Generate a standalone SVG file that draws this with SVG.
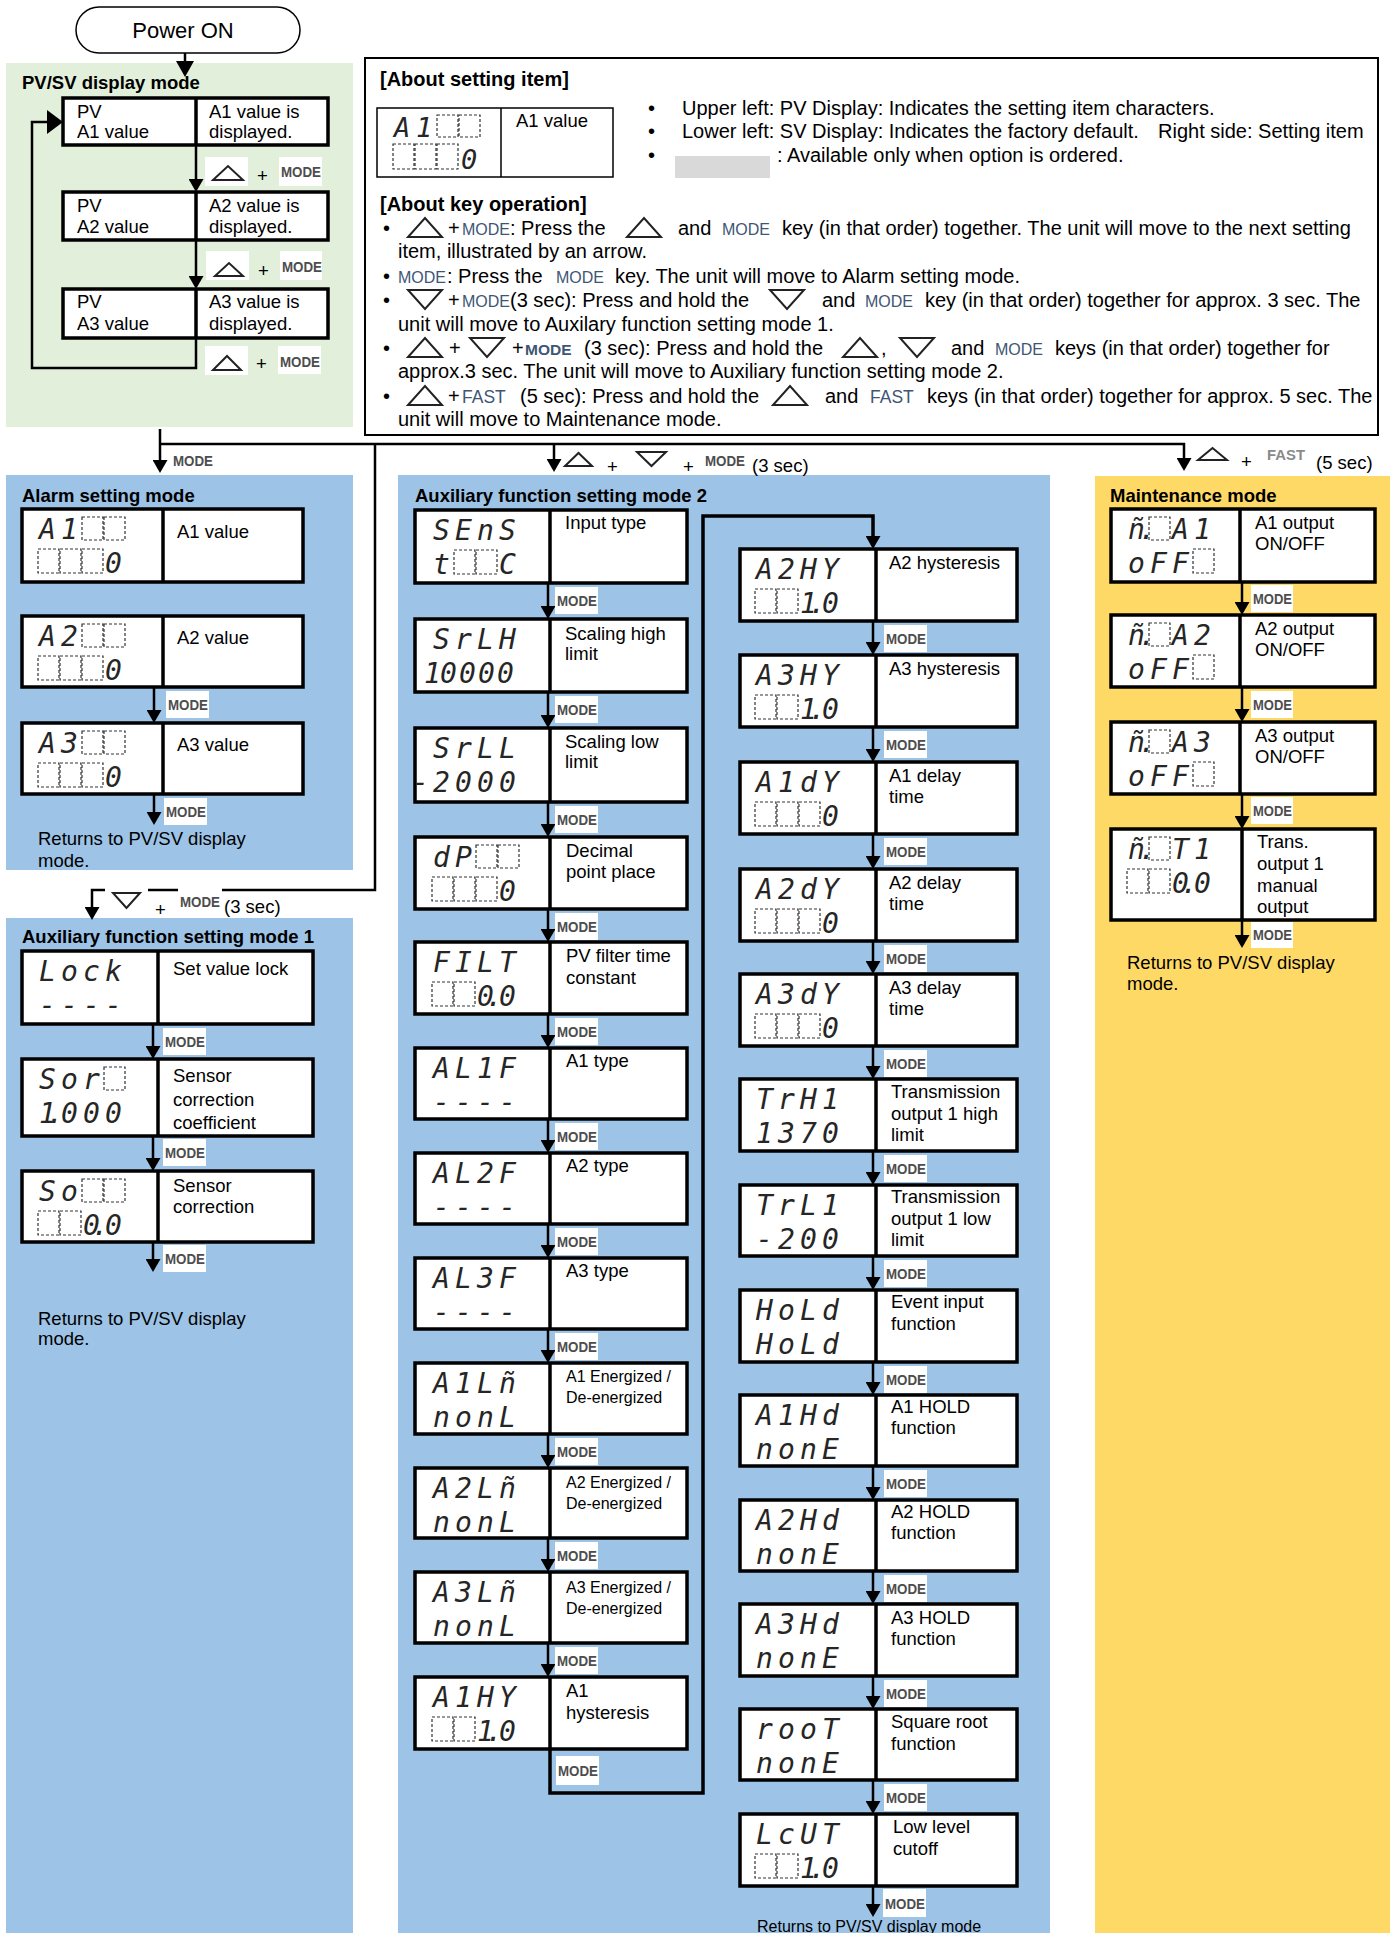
<svg xmlns="http://www.w3.org/2000/svg" width="1394" height="1933" viewBox="0 0 1394 1933">
<style>
.bx{fill:#fff;stroke:#000;stroke-width:3.5}
.dv{stroke:#000;stroke-width:3.5}
.t{font-family:"Liberation Sans",Arial,sans-serif;font-size:18.5px;fill:#000}
.t16{font-family:"Liberation Sans",Arial,sans-serif;font-size:16px;fill:#000}
.ti{font-family:"Liberation Sans",Arial,sans-serif;font-size:18.5px;font-weight:bold;fill:#000}
.s{font-family:"DejaVu Sans Mono",monospace;font-style:italic;font-size:28px;fill:#262626}
.db{fill:none;stroke:#333;stroke-width:1.2;stroke-dasharray:3 2}
.ch{fill:#fff}
.md{font-family:"Liberation Sans",Arial,sans-serif;font-size:14px;font-weight:bold;fill:#4d4d4d}
.c{fill:none;stroke:#000;stroke-width:2.5}
.it{font-family:"Liberation Sans",Arial,sans-serif;font-size:20px;fill:#000}
.ih{font-family:"Liberation Sans",Arial,sans-serif;font-size:20px;font-weight:bold;fill:#000}
.km{font-size:16px;fill:#3e5674}
.kf{font-size:17.5px;fill:#3e5674}
.tr{fill:none;stroke:#222;stroke-width:2}
.ah{fill:#000}
</style>
<defs>
<marker id="ar" markerUnits="userSpaceOnUse" markerWidth="15" markerHeight="15" refX="10" refY="7.5" orient="auto"><path d="M0,0 L13,7.5 L0,15 Z" fill="#000"/></marker>
<path id="tu" d="M0,19 L34,19 L17,0 Z"/>
<path id="td" d="M0,0 L34,0 L17,19 Z"/>
</defs>

<!-- regions -->
<rect x="6" y="63" width="347" height="364" fill="#e2efda"/>
<rect x="6" y="475" width="347" height="395" fill="#9dc3e6"/>
<rect x="6" y="918" width="347" height="1015" fill="#9dc3e6"/>
<rect x="398" y="475" width="652" height="1458" fill="#9dc3e6"/>
<rect x="1095" y="476" width="295" height="1457" fill="#ffd966"/>

<text class="ti" x="22" y="89">PV/SV display mode</text>
<text class="ti" x="22" y="502">Alarm setting mode</text>
<text class="ti" x="22" y="943">Auxiliary function setting mode 1</text>
<text class="ti" x="415" y="502">Auxiliary function setting mode 2</text>
<text class="ti" x="1110" y="502">Maintenance mode</text>

<text class="t"><tspan x="38" y="845">Returns to PV/SV display</tspan><tspan x="38" y="867">mode.</tspan></text>
<text class="t"><tspan x="38" y="1325">Returns to PV/SV display</tspan><tspan x="38" y="1345">mode.</tspan></text>
<text class="t"><tspan x="1127" y="969">Returns to PV/SV display</tspan><tspan x="1127" y="990">mode.</tspan></text>
<text class="t16" x="757" y="1932">Returns to PV/SV display mode</text>

<!-- info box -->
<g id="info">
<rect x="365" y="58" width="1013" height="377" fill="#fff" stroke="#000" stroke-width="2"/>
<text class="ih" x="380" y="86">[About setting item]</text>
<text class="it"><tspan x="648" y="115">•</tspan><tspan x="682" y="115">Upper left: PV Display: Indicates the setting item characters.</tspan></text>
<text class="it"><tspan x="648" y="138">•</tspan><tspan x="682" y="138">Lower left: SV Display: Indicates the factory default.</tspan><tspan x="1158" y="138">Right side: Setting item</tspan></text>
<rect x="675" y="156" width="95" height="22" fill="#d9d9d9"/>
<text class="it"><tspan x="648" y="162">•</tspan><tspan x="777" y="162">: Available only when option is ordered.</tspan></text>
<g id="legend-sample">
<rect x="377" y="108" width="236" height="69" fill="#fff" stroke="#000" stroke-width="1.5"/>
<line x1="501" y1="108" x2="501" y2="177" stroke="#000" stroke-width="1.5"/>
<rect class="db" x="437" y="115" width="21" height="22"/><rect class="db" x="459" y="115" width="21" height="22"/>
<rect class="db" x="393" y="144" width="21" height="25"/><rect class="db" x="415" y="144" width="21" height="25"/><rect class="db" x="437" y="144" width="21" height="25"/>
<text class="s" style="font-size:27px"><tspan x="394 416" y="137">A1</tspan><tspan x="461" y="169">0</tspan></text>
<text class="t" x="516" y="127">A1 value</text>
</g>
<text class="ih" x="380" y="211">[About key operation]</text>
<use href="#tu" class="tr" x="408" y="218"/>
<use href="#tu" class="tr" x="627" y="218"/>
<text class="it" y="235"><tspan x="383">•</tspan><tspan x="448">+</tspan><tspan x="462" class="km">MODE</tspan><tspan x="510">: Press the</tspan><tspan x="678">and</tspan><tspan x="722" class="km">MODE</tspan><tspan x="782">key (in that order) together. The unit will move to the next setting</tspan></text>
<text class="it" x="398" y="258">item, illustrated by an arrow.</text>
<text class="it" y="283"><tspan x="383">•</tspan><tspan x="398" class="km">MODE</tspan><tspan x="447">: Press the</tspan><tspan x="556" class="km">MODE</tspan><tspan x="615">key. The unit will move to Alarm setting mode.</tspan></text>
<use href="#td" class="tr" x="408" y="290"/>
<use href="#td" class="tr" x="770" y="290"/>
<text class="it" y="307"><tspan x="383">•</tspan><tspan x="448">+</tspan><tspan x="462" class="km">MODE</tspan><tspan x="510">(3 sec): Press and hold the</tspan><tspan x="822">and</tspan><tspan x="865" class="km">MODE</tspan><tspan x="925">key (in that order) together for approx. 3 sec. The</tspan></text>
<text class="it" x="398" y="331">unit will move to Auxilary function setting mode 1.</text>
<use href="#tu" class="tr" x="408" y="338"/>
<use href="#td" class="tr" x="470" y="338"/>
<use href="#tu" class="tr" x="843" y="338"/>
<use href="#td" class="tr" x="900" y="338"/>
<text class="it" y="355"><tspan x="383">•</tspan><tspan x="449">+</tspan><tspan x="512">+</tspan><tspan x="525" class="km" style="font-size:15.5px;font-weight:bold">MODE</tspan><tspan x="584">(3 sec): Press and hold the</tspan><tspan x="881">,</tspan><tspan x="951">and</tspan><tspan x="995" class="km">MODE</tspan><tspan x="1055">keys (in that order) together for</tspan></text>
<text class="it" x="398" y="378">approx.3 sec. The unit will move to Auxiliary function setting mode 2.</text>
<use href="#tu" class="tr" x="408" y="386"/>
<use href="#tu" class="tr" x="773" y="386"/>
<text class="it" y="403"><tspan x="383">•</tspan><tspan x="448">+</tspan><tspan x="462" class="kf">FAST</tspan><tspan x="520">(5 sec): Press and hold the</tspan><tspan x="825">and</tspan><tspan x="870" class="kf">FAST</tspan><tspan x="927">keys (in that order) together for approx. 5 sec. The</tspan></text>
<text class="it" x="398" y="426">unit will move to Maintenance mode.</text>
</g>

<!-- connectors -->
<g id="connectors">
<path class="c" d="M185,53 V63"/>
<polygon class="ah" points="176,61 194,61 185,77"/>
<path class="c" d="M196,145 V189" marker-end="url(#ar)"/>
<path class="c" d="M196,240 V286" marker-end="url(#ar)"/>
<path class="c" d="M196,338 V368 H32 V122 H49"/>
<polygon class="ah" points="47,110 63,122 47,134"/>
<path class="c" d="M160,429 V470" marker-end="url(#ar)"/>
<path class="c" d="M160,444 H1184 V468" marker-end="url(#ar)"/>
<path class="c" d="M554,444 V469" marker-end="url(#ar)"/>
<path class="c" d="M375,444 V890 H92 V917" marker-end="url(#ar)"/>
<path class="c" d="M154,687 V720" marker-end="url(#ar)"/>
<path class="c" d="M154,794 V822" marker-end="url(#ar)"/>
<path class="c" d="M153,1024 V1056" marker-end="url(#ar)"/>
<path class="c" d="M153,1136 V1168" marker-end="url(#ar)"/>
<path class="c" d="M153,1242 V1269" marker-end="url(#ar)"/>
<path class="c" d="M548,583 V616" marker-end="url(#ar)"/>
<path class="c" d="M548,692 V725" marker-end="url(#ar)"/>
<path class="c" d="M548,802 V834" marker-end="url(#ar)"/>
<path class="c" d="M548,909 V939" marker-end="url(#ar)"/>
<path class="c" d="M548,1014 V1045" marker-end="url(#ar)"/>
<path class="c" d="M548,1119 V1150" marker-end="url(#ar)"/>
<path class="c" d="M548,1224 V1255" marker-end="url(#ar)"/>
<path class="c" d="M548,1329 V1360" marker-end="url(#ar)"/>
<path class="c" d="M548,1434 V1465" marker-end="url(#ar)"/>
<path class="c" d="M548,1538 V1569" marker-end="url(#ar)"/>
<path class="c" d="M548,1643 V1674" marker-end="url(#ar)"/>
<path class="c" style="stroke-width:3.5" d="M550,1749 V1793 H703 V516 H873 V546" marker-end="url(#ar)"/>
<path class="c" d="M873,621 V652" marker-end="url(#ar)"/>
<path class="c" d="M873,727 V759" marker-end="url(#ar)"/>
<path class="c" d="M873,834 V866" marker-end="url(#ar)"/>
<path class="c" d="M873,941 V971" marker-end="url(#ar)"/>
<path class="c" d="M873,1046 V1076" marker-end="url(#ar)"/>
<path class="c" d="M873,1151 V1182" marker-end="url(#ar)"/>
<path class="c" d="M873,1256 V1287" marker-end="url(#ar)"/>
<path class="c" d="M873,1362 V1392" marker-end="url(#ar)"/>
<path class="c" d="M873,1466 V1497" marker-end="url(#ar)"/>
<path class="c" d="M873,1571 V1601" marker-end="url(#ar)"/>
<path class="c" d="M873,1676 V1706" marker-end="url(#ar)"/>
<path class="c" d="M873,1780 V1811" marker-end="url(#ar)"/>
<path class="c" d="M873,1886 V1914" marker-end="url(#ar)"/>
<path class="c" d="M1242,582 V612" marker-end="url(#ar)"/>
<path class="c" d="M1242,687 V719" marker-end="url(#ar)"/>
<path class="c" d="M1242,794 V826" marker-end="url(#ar)"/>
<path class="c" d="M1242,920 V945" marker-end="url(#ar)"/>

<!-- PV chips -->
<rect class="ch" x="205" y="157" width="43" height="29"/><polygon class="tr" points="213,180 243,180 228,166"/>
<text class="t" x="257" y="182">+</text>
<rect class="ch" x="279" y="157" width="43" height="29"/><text class="md" x="281" y="177" textLength="40" lengthAdjust="spacingAndGlyphs">MODE</text>
<rect class="ch" x="206" y="251" width="43" height="29"/><polygon class="tr" points="215,276 243,276 229,263"/>
<text class="t" x="258" y="277">+</text>
<rect class="ch" x="280" y="251" width="42" height="29"/><text class="md" x="282" y="272" textLength="40" lengthAdjust="spacingAndGlyphs">MODE</text>
<rect class="ch" x="205" y="346" width="43" height="29"/><polygon class="tr" points="213,370 241,370 227,356"/>
<text class="t" x="256" y="370">+</text>
<rect class="ch" x="278" y="346" width="43" height="28"/><text class="md" x="280" y="367" textLength="40" lengthAdjust="spacingAndGlyphs">MODE</text>

<!-- top labels -->
<text class="md" x="173" y="466" textLength="40" lengthAdjust="spacingAndGlyphs">MODE</text>
<polygon class="tr" points="565,466 592,466 578.5,453"/>
<text class="t" x="607" y="473">+</text>
<polygon class="tr" points="637,452 666,452 651.5,466"/>
<text class="t" x="683" y="473">+</text>
<text class="md" x="705" y="466" textLength="40" lengthAdjust="spacingAndGlyphs">MODE</text>
<text class="t" x="752" y="472">(3 sec)</text>
<polygon class="tr" points="1198,460 1227,460 1212.5,448"/>
<text class="t" x="1241" y="468">+</text>
<text class="md" x="1267" y="460" style="fill:#8a8a8a" textLength="38" lengthAdjust="spacingAndGlyphs">FAST</text>
<text class="t" x="1316" y="469">(5 sec)</text>
<rect class="ch" x="105" y="880" width="43" height="30"/>
<polygon class="tr" points="113,893 140,893 126.5,908"/>
<text class="t" x="155" y="916">+</text>
<rect class="ch" x="178" y="880" width="44" height="30"/>
<text class="md" x="180" y="907" textLength="40" lengthAdjust="spacingAndGlyphs">MODE</text>
<text class="t" x="224" y="913">(3 sec)</text>

<!-- MODE chips on flows -->
<rect class="ch" x="166" y="691" width="43" height="27"/><text class="md" x="168" y="710" textLength="40" lengthAdjust="spacingAndGlyphs">MODE</text>
<rect class="ch" x="164" y="798" width="43" height="27"/><text class="md" x="166" y="817" textLength="40" lengthAdjust="spacingAndGlyphs">MODE</text>
<rect class="ch" x="163" y="1028" width="43" height="27"/><text class="md" x="165" y="1047" textLength="40" lengthAdjust="spacingAndGlyphs">MODE</text>
<rect class="ch" x="163" y="1139" width="43" height="27"/><text class="md" x="165" y="1158" textLength="40" lengthAdjust="spacingAndGlyphs">MODE</text>
<rect class="ch" x="163" y="1245" width="43" height="27"/><text class="md" x="165" y="1264" textLength="40" lengthAdjust="spacingAndGlyphs">MODE</text>
<rect class="ch" x="555" y="587" width="43" height="27"/><text class="md" x="557" y="606" textLength="40" lengthAdjust="spacingAndGlyphs">MODE</text>
<rect class="ch" x="555" y="696" width="43" height="27"/><text class="md" x="557" y="715" textLength="40" lengthAdjust="spacingAndGlyphs">MODE</text>
<rect class="ch" x="555" y="806" width="43" height="27"/><text class="md" x="557" y="825" textLength="40" lengthAdjust="spacingAndGlyphs">MODE</text>
<rect class="ch" x="555" y="913" width="43" height="27"/><text class="md" x="557" y="932" textLength="40" lengthAdjust="spacingAndGlyphs">MODE</text>
<rect class="ch" x="555" y="1018" width="43" height="27"/><text class="md" x="557" y="1037" textLength="40" lengthAdjust="spacingAndGlyphs">MODE</text>
<rect class="ch" x="555" y="1123" width="43" height="27"/><text class="md" x="557" y="1142" textLength="40" lengthAdjust="spacingAndGlyphs">MODE</text>
<rect class="ch" x="555" y="1228" width="43" height="27"/><text class="md" x="557" y="1247" textLength="40" lengthAdjust="spacingAndGlyphs">MODE</text>
<rect class="ch" x="555" y="1333" width="43" height="27"/><text class="md" x="557" y="1352" textLength="40" lengthAdjust="spacingAndGlyphs">MODE</text>
<rect class="ch" x="555" y="1438" width="43" height="27"/><text class="md" x="557" y="1457" textLength="40" lengthAdjust="spacingAndGlyphs">MODE</text>
<rect class="ch" x="555" y="1542" width="43" height="27"/><text class="md" x="557" y="1561" textLength="40" lengthAdjust="spacingAndGlyphs">MODE</text>
<rect class="ch" x="555" y="1647" width="43" height="27"/><text class="md" x="557" y="1666" textLength="40" lengthAdjust="spacingAndGlyphs">MODE</text>
<rect class="ch" x="556" y="1756" width="43" height="29"/><text class="md" x="558" y="1776" textLength="40" lengthAdjust="spacingAndGlyphs">MODE</text>
<rect class="ch" x="884" y="625" width="43" height="27"/><text class="md" x="886" y="644" textLength="40" lengthAdjust="spacingAndGlyphs">MODE</text>
<rect class="ch" x="884" y="731" width="43" height="27"/><text class="md" x="886" y="750" textLength="40" lengthAdjust="spacingAndGlyphs">MODE</text>
<rect class="ch" x="884" y="838" width="43" height="27"/><text class="md" x="886" y="857" textLength="40" lengthAdjust="spacingAndGlyphs">MODE</text>
<rect class="ch" x="884" y="945" width="43" height="27"/><text class="md" x="886" y="964" textLength="40" lengthAdjust="spacingAndGlyphs">MODE</text>
<rect class="ch" x="884" y="1050" width="43" height="27"/><text class="md" x="886" y="1069" textLength="40" lengthAdjust="spacingAndGlyphs">MODE</text>
<rect class="ch" x="884" y="1155" width="43" height="27"/><text class="md" x="886" y="1174" textLength="40" lengthAdjust="spacingAndGlyphs">MODE</text>
<rect class="ch" x="884" y="1260" width="43" height="27"/><text class="md" x="886" y="1279" textLength="40" lengthAdjust="spacingAndGlyphs">MODE</text>
<rect class="ch" x="884" y="1366" width="43" height="27"/><text class="md" x="886" y="1385" textLength="40" lengthAdjust="spacingAndGlyphs">MODE</text>
<rect class="ch" x="884" y="1470" width="43" height="27"/><text class="md" x="886" y="1489" textLength="40" lengthAdjust="spacingAndGlyphs">MODE</text>
<rect class="ch" x="884" y="1575" width="43" height="27"/><text class="md" x="886" y="1594" textLength="40" lengthAdjust="spacingAndGlyphs">MODE</text>
<rect class="ch" x="884" y="1680" width="43" height="27"/><text class="md" x="886" y="1699" textLength="40" lengthAdjust="spacingAndGlyphs">MODE</text>
<rect class="ch" x="884" y="1784" width="43" height="27"/><text class="md" x="886" y="1803" textLength="40" lengthAdjust="spacingAndGlyphs">MODE</text>
<rect class="ch" x="883" y="1889" width="43" height="28"/><text class="md" x="885" y="1909" textLength="40" lengthAdjust="spacingAndGlyphs">MODE</text>
<rect class="ch" x="1251" y="585" width="42" height="27"/><text class="md" x="1253" y="604" textLength="39" lengthAdjust="spacingAndGlyphs">MODE</text>
<rect class="ch" x="1251" y="691" width="42" height="27"/><text class="md" x="1253" y="710" textLength="39" lengthAdjust="spacingAndGlyphs">MODE</text>
<rect class="ch" x="1251" y="797" width="42" height="27"/><text class="md" x="1253" y="816" textLength="39" lengthAdjust="spacingAndGlyphs">MODE</text>
<rect class="ch" x="1251" y="922" width="42" height="26"/><text class="md" x="1253" y="940" textLength="39" lengthAdjust="spacingAndGlyphs">MODE</text>
</g>

<!-- Power ON -->
<g id="power-on"><rect x="76" y="7" width="224" height="46" rx="23" fill="#fff" stroke="#000" stroke-width="1.5"/><text x="183" y="38" text-anchor="middle" style="font-family:'Liberation Sans',Arial,sans-serif;font-size:22px">Power ON</text></g>

<!-- PV/SV nodes -->
<g id="pv-a1"><rect class="bx" x="63" y="98" width="265" height="47"/><line class="dv" x1="196" y1="98" x2="196" y2="145"/>
<text class="t"><tspan x="77" y="118">PV</tspan><tspan x="77" y="138">A1 value</tspan></text><text class="t"><tspan x="209" y="118">A1 value is</tspan><tspan x="209" y="138">displayed.</tspan></text></g>
<g id="pv-a2"><rect class="bx" x="63" y="192" width="265" height="48"/><line class="dv" x1="196" y1="192" x2="196" y2="240"/>
<text class="t"><tspan x="77" y="212">PV</tspan><tspan x="77" y="233">A2 value</tspan></text><text class="t"><tspan x="209" y="212">A2 value is</tspan><tspan x="209" y="233">displayed.</tspan></text></g>
<g id="pv-a3"><rect class="bx" x="63" y="289" width="265" height="49"/><line class="dv" x1="196" y1="289" x2="196" y2="338"/>
<text class="t"><tspan x="77" y="308">PV</tspan><tspan x="77" y="330">A3 value</tspan></text><text class="t"><tspan x="209" y="308">A3 value is</tspan><tspan x="209" y="330">displayed.</tspan></text></g>

<!-- Alarm nodes -->
<g id="alarm-a1"><rect class="bx" x="22" y="509" width="281" height="73"/><line class="dv" x1="163" y1="509" x2="163" y2="582"/>
<rect class="db" x="82" y="517" width="21" height="23"/><rect class="db" x="104" y="517" width="21" height="23"/>
<rect class="db" x="38" y="549" width="21" height="24"/><rect class="db" x="60" y="549" width="21" height="24"/><rect class="db" x="82" y="549" width="21" height="24"/>
<text class="s"><tspan x="39 61" y="539">A1</tspan><tspan x="105" y="573">0</tspan></text>
<text class="t" x="177" y="538">A1 value</text></g>
<g id="alarm-a2"><rect class="bx" x="22" y="616" width="281" height="71"/><line class="dv" x1="163" y1="616" x2="163" y2="687"/>
<rect class="db" x="82" y="624" width="21" height="23"/><rect class="db" x="104" y="624" width="21" height="23"/>
<rect class="db" x="38" y="656" width="21" height="24"/><rect class="db" x="60" y="656" width="21" height="24"/><rect class="db" x="82" y="656" width="21" height="24"/>
<text class="s"><tspan x="39 61" y="646">A2</tspan><tspan x="105" y="680">0</tspan></text>
<text class="t" x="177" y="644">A2 value</text></g>
<g id="alarm-a3"><rect class="bx" x="22" y="723" width="281" height="71"/><line class="dv" x1="163" y1="723" x2="163" y2="794"/>
<rect class="db" x="82" y="731" width="21" height="23"/><rect class="db" x="104" y="731" width="21" height="23"/>
<rect class="db" x="38" y="763" width="21" height="24"/><rect class="db" x="60" y="763" width="21" height="24"/><rect class="db" x="82" y="763" width="21" height="24"/>
<text class="s"><tspan x="39 61" y="753">A3</tspan><tspan x="105" y="787">0</tspan></text>
<text class="t" x="177" y="751">A3 value</text></g>

<!-- Aux 1 nodes -->
<g id="aux1-lock"><rect class="bx" x="22" y="951" width="291" height="73"/><line class="dv" x1="158" y1="951" x2="158" y2="1024"/>
<text class="s"><tspan x="39 61 83 105" y="981">Lock</tspan><tspan x="39 61 83 105" y="1015">----</tspan></text>
<text class="t" x="173" y="975">Set value lock</text></g>
<g id="aux1-sor"><rect class="bx" x="22" y="1059" width="291" height="77"/><line class="dv" x1="158" y1="1059" x2="158" y2="1136"/>
<rect class="db" x="104" y="1067" width="21" height="23"/>
<text class="s"><tspan x="39 61 83" y="1089">Sor</tspan><tspan x="39 47 61 83 105" y="1123">1.000</tspan></text>
<text class="t"><tspan x="173" y="1082">Sensor</tspan><tspan x="173" y="1106">correction</tspan><tspan x="173" y="1129">coefficient</tspan></text></g>
<g id="aux1-so"><rect class="bx" x="22" y="1171" width="291" height="71"/><line class="dv" x1="158" y1="1171" x2="158" y2="1242"/>
<rect class="db" x="82" y="1179" width="21" height="23"/><rect class="db" x="104" y="1179" width="21" height="23"/>
<rect class="db" x="38" y="1211" width="21" height="24"/><rect class="db" x="60" y="1211" width="21" height="24"/>
<text class="s"><tspan x="39 61" y="1201">So</tspan><tspan x="83 92 105" y="1235">0.0</tspan></text>
<text class="t"><tspan x="173" y="1192">Sensor</tspan><tspan x="173" y="1213">correction</tspan></text></g>

<!-- Aux 2 left nodes -->
<g id="aux2-sens"><rect class="bx" x="415" y="510" width="272" height="73"/><line class="dv" x1="550" y1="510" x2="550" y2="583"/>
<rect class="db" x="454" y="550" width="21" height="24"/><rect class="db" x="476" y="550" width="21" height="24"/>
<text class="s"><tspan x="433 455 477 499" y="540">SEnS</tspan><tspan x="433 499" y="574">tC</tspan></text>
<text class="t" x="565" y="529">Input type</text></g>
<g id="aux2-srlh"><rect class="bx" x="415" y="619" width="272" height="73"/><line class="dv" x1="550" y1="619" x2="550" y2="692"/>
<text class="s"><tspan x="433 455 477 499" y="649">SrLH</tspan><tspan x="424 440 459 478 497" y="683">10000</tspan></text>
<text class="t"><tspan x="565" y="640">Scaling high</tspan><tspan x="565" y="660">limit</tspan></text></g>
<g id="aux2-srll"><rect class="bx" x="415" y="728" width="272" height="74"/><line class="dv" x1="550" y1="728" x2="550" y2="802"/>
<text class="s"><tspan x="433 455 477 499" y="758">SrLL</tspan><tspan x="412 433 455 477 499" y="792">-2000</tspan></text>
<text class="t"><tspan x="565" y="748">Scaling low</tspan><tspan x="565" y="768">limit</tspan></text></g>
<g id="aux2-dp"><rect class="bx" x="415" y="837" width="272" height="72"/><line class="dv" x1="550" y1="837" x2="550" y2="909"/>
<rect class="db" x="476" y="845" width="21" height="23"/><rect class="db" x="498" y="845" width="21" height="23"/>
<rect class="db" x="432" y="877" width="21" height="24"/><rect class="db" x="454" y="877" width="21" height="24"/><rect class="db" x="476" y="877" width="21" height="24"/>
<text class="s"><tspan x="433 455" y="867">dP</tspan><tspan x="499" y="901">0</tspan></text>
<text class="t"><tspan x="566" y="857">Decimal</tspan><tspan x="566" y="878">point place</tspan></text></g>
<g id="aux2-filt"><rect class="bx" x="415" y="942" width="272" height="72"/><line class="dv" x1="550" y1="942" x2="550" y2="1014"/>
<rect class="db" x="432" y="982" width="21" height="24"/><rect class="db" x="454" y="982" width="21" height="24"/>
<text class="s"><tspan x="433 455 477 499" y="972">FILT</tspan><tspan x="477 486 499" y="1006">0.0</tspan></text>
<text class="t"><tspan x="566" y="962">PV filter time</tspan><tspan x="566" y="984">constant</tspan></text></g>
<g id="aux2-al1f"><rect class="bx" x="415" y="1048" width="272" height="71"/><line class="dv" x1="550" y1="1048" x2="550" y2="1119"/>
<text class="s"><tspan x="433 455 477 499" y="1078">AL1F</tspan><tspan x="433 455 477 499" y="1112">----</tspan></text>
<text class="t" x="566" y="1067">A1 type</text></g>
<g id="aux2-al2f"><rect class="bx" x="415" y="1153" width="272" height="71"/><line class="dv" x1="550" y1="1153" x2="550" y2="1224"/>
<text class="s"><tspan x="433 455 477 499" y="1183">AL2F</tspan><tspan x="433 455 477 499" y="1217">----</tspan></text>
<text class="t" x="566" y="1172">A2 type</text></g>
<g id="aux2-al3f"><rect class="bx" x="415" y="1258" width="272" height="71"/><line class="dv" x1="550" y1="1258" x2="550" y2="1329"/>
<text class="s"><tspan x="433 455 477 499" y="1288">AL3F</tspan><tspan x="433 455 477 499" y="1322">----</tspan></text>
<text class="t" x="566" y="1277">A3 type</text></g>
<g id="aux2-a1lm"><rect class="bx" x="415" y="1363" width="272" height="71"/><line class="dv" x1="550" y1="1363" x2="550" y2="1434"/>
<text class="s"><tspan x="433 455 477 499" y="1393">A1Lñ</tspan><tspan x="433 455 477 499" y="1427">nonL</tspan></text>
<text class="t16"><tspan x="566" y="1382">A1 Energized /</tspan><tspan x="566" y="1403">De-energized</tspan></text></g>
<g id="aux2-a2lm"><rect class="bx" x="415" y="1468" width="272" height="70"/><line class="dv" x1="550" y1="1468" x2="550" y2="1538"/>
<text class="s"><tspan x="433 455 477 499" y="1498">A2Lñ</tspan><tspan x="433 455 477 499" y="1532">nonL</tspan></text>
<text class="t16"><tspan x="566" y="1488">A2 Energized /</tspan><tspan x="566" y="1509">De-energized</tspan></text></g>
<g id="aux2-a3lm"><rect class="bx" x="415" y="1572" width="272" height="71"/><line class="dv" x1="550" y1="1572" x2="550" y2="1643"/>
<text class="s"><tspan x="433 455 477 499" y="1602">A3Lñ</tspan><tspan x="433 455 477 499" y="1636">nonL</tspan></text>
<text class="t16"><tspan x="566" y="1593">A3 Energized /</tspan><tspan x="566" y="1614">De-energized</tspan></text></g>
<g id="aux2-a1hy"><rect class="bx" x="415" y="1677" width="272" height="72"/><line class="dv" x1="550" y1="1677" x2="550" y2="1749"/>
<rect class="db" x="432" y="1717" width="21" height="24"/><rect class="db" x="454" y="1717" width="21" height="24"/>
<text class="s"><tspan x="433 455 477 499" y="1707">A1HY</tspan><tspan x="477 486 499" y="1741">1.0</tspan></text>
<text class="t"><tspan x="566" y="1697">A1</tspan><tspan x="566" y="1719">hysteresis</tspan></text></g>

<!-- Aux 2 right nodes -->
<g id="aux2-a2hy"><rect class="bx" x="740" y="549" width="277" height="72"/><line class="dv" x1="876" y1="549" x2="876" y2="621"/>
<rect class="db" x="755" y="589" width="21" height="24"/><rect class="db" x="777" y="589" width="21" height="24"/>
<text class="s"><tspan x="756 778 800 822" y="579">A2HY</tspan><tspan x="800 809 822" y="613">1.0</tspan></text>
<text class="t" x="889" y="569">A2 hysteresis</text></g>
<g id="aux2-a3hy"><rect class="bx" x="740" y="655" width="277" height="72"/><line class="dv" x1="876" y1="655" x2="876" y2="727"/>
<rect class="db" x="755" y="695" width="21" height="24"/><rect class="db" x="777" y="695" width="21" height="24"/>
<text class="s"><tspan x="756 778 800 822" y="685">A3HY</tspan><tspan x="800 809 822" y="719">1.0</tspan></text>
<text class="t" x="889" y="675">A3 hysteresis</text></g>
<g id="aux2-a1dy"><rect class="bx" x="740" y="762" width="277" height="72"/><line class="dv" x1="876" y1="762" x2="876" y2="834"/>
<rect class="db" x="755" y="802" width="21" height="24"/><rect class="db" x="777" y="802" width="21" height="24"/><rect class="db" x="799" y="802" width="21" height="24"/>
<text class="s"><tspan x="756 778 800 822" y="792">A1dY</tspan><tspan x="822" y="826">0</tspan></text>
<text class="t"><tspan x="889" y="782">A1 delay</tspan><tspan x="889" y="803">time</tspan></text></g>
<g id="aux2-a2dy"><rect class="bx" x="740" y="869" width="277" height="72"/><line class="dv" x1="876" y1="869" x2="876" y2="941"/>
<rect class="db" x="755" y="909" width="21" height="24"/><rect class="db" x="777" y="909" width="21" height="24"/><rect class="db" x="799" y="909" width="21" height="24"/>
<text class="s"><tspan x="756 778 800 822" y="899">A2dY</tspan><tspan x="822" y="933">0</tspan></text>
<text class="t"><tspan x="889" y="889">A2 delay</tspan><tspan x="889" y="910">time</tspan></text></g>
<g id="aux2-a3dy"><rect class="bx" x="740" y="974" width="277" height="72"/><line class="dv" x1="876" y1="974" x2="876" y2="1046"/>
<rect class="db" x="755" y="1014" width="21" height="24"/><rect class="db" x="777" y="1014" width="21" height="24"/><rect class="db" x="799" y="1014" width="21" height="24"/>
<text class="s"><tspan x="756 778 800 822" y="1004">A3dY</tspan><tspan x="822" y="1038">0</tspan></text>
<text class="t"><tspan x="889" y="994">A3 delay</tspan><tspan x="889" y="1015">time</tspan></text></g>
<g id="aux2-trh1"><rect class="bx" x="740" y="1079" width="277" height="72"/><line class="dv" x1="876" y1="1079" x2="876" y2="1151"/>
<text class="s"><tspan x="756 778 800 822" y="1109">TrH1</tspan><tspan x="756 778 800 822" y="1143">1370</tspan></text>
<text class="t"><tspan x="891" y="1098">Transmission</tspan><tspan x="891" y="1120">output 1 high</tspan><tspan x="891" y="1141">limit</tspan></text></g>
<g id="aux2-trl1"><rect class="bx" x="740" y="1185" width="277" height="71"/><line class="dv" x1="876" y1="1185" x2="876" y2="1256"/>
<text class="s"><tspan x="756 778 800 822" y="1215">TrL1</tspan><tspan x="756 778 800 822" y="1249">-200</tspan></text>
<text class="t"><tspan x="891" y="1203">Transmission</tspan><tspan x="891" y="1225">output 1 low</tspan><tspan x="891" y="1246">limit</tspan></text></g>
<g id="aux2-hold"><rect class="bx" x="740" y="1290" width="277" height="72"/><line class="dv" x1="876" y1="1290" x2="876" y2="1362"/>
<text class="s"><tspan x="756 778 800 822" y="1320">HoLd</tspan><tspan x="756 778 800 822" y="1354">HoLd</tspan></text>
<text class="t"><tspan x="891" y="1308">Event input</tspan><tspan x="891" y="1330">function</tspan></text></g>
<g id="aux2-a1hd"><rect class="bx" x="740" y="1395" width="277" height="71"/><line class="dv" x1="876" y1="1395" x2="876" y2="1466"/>
<text class="s"><tspan x="756 778 800 822" y="1425">A1Hd</tspan><tspan x="756 778 800 822" y="1459">nonE</tspan></text>
<text class="t"><tspan x="891" y="1413">A1 HOLD</tspan><tspan x="891" y="1434">function</tspan></text></g>
<g id="aux2-a2hd"><rect class="bx" x="740" y="1500" width="277" height="71"/><line class="dv" x1="876" y1="1500" x2="876" y2="1571"/>
<text class="s"><tspan x="756 778 800 822" y="1530">A2Hd</tspan><tspan x="756 778 800 822" y="1564">nonE</tspan></text>
<text class="t"><tspan x="891" y="1518">A2 HOLD</tspan><tspan x="891" y="1539">function</tspan></text></g>
<g id="aux2-a3hd"><rect class="bx" x="740" y="1604" width="277" height="72"/><line class="dv" x1="876" y1="1604" x2="876" y2="1676"/>
<text class="s"><tspan x="756 778 800 822" y="1634">A3Hd</tspan><tspan x="756 778 800 822" y="1668">nonE</tspan></text>
<text class="t"><tspan x="891" y="1624">A3 HOLD</tspan><tspan x="891" y="1645">function</tspan></text></g>
<g id="aux2-root"><rect class="bx" x="740" y="1709" width="277" height="71"/><line class="dv" x1="876" y1="1709" x2="876" y2="1780"/>
<text class="s"><tspan x="756 778 800 822" y="1739">rooT</tspan><tspan x="756 778 800 822" y="1773">nonE</tspan></text>
<text class="t"><tspan x="891" y="1728">Square root</tspan><tspan x="891" y="1750">function</tspan></text></g>
<g id="aux2-lcut"><rect class="bx" x="740" y="1814" width="277" height="72"/><line class="dv" x1="876" y1="1814" x2="876" y2="1886"/>
<rect class="db" x="755" y="1854" width="21" height="24"/><rect class="db" x="777" y="1854" width="21" height="24"/>
<text class="s"><tspan x="756 778 800 822" y="1844">LcUT</tspan><tspan x="800 809 822" y="1878">1.0</tspan></text>
<text class="t"><tspan x="893" y="1833">Low level</tspan><tspan x="893" y="1855">cutoff</tspan></text></g>

<!-- Maintenance nodes -->
<g id="maint-a1"><rect class="bx" x="1111" y="509" width="264" height="73"/><line class="dv" x1="1240" y1="509" x2="1240" y2="582"/>
<rect class="db" x="1149" y="517" width="21" height="23"/><rect class="db" x="1193" y="549" width="21" height="24"/>
<text class="s"><tspan x="1128 1139 1172 1194" y="539">ñ.A1</tspan><tspan x="1128 1150 1172" y="573">oFF</tspan></text>
<text class="t"><tspan x="1255" y="529">A1 output</tspan><tspan x="1255" y="550">ON/OFF</tspan></text></g>
<g id="maint-a2"><rect class="bx" x="1111" y="615" width="264" height="72"/><line class="dv" x1="1240" y1="615" x2="1240" y2="687"/>
<rect class="db" x="1149" y="623" width="21" height="23"/><rect class="db" x="1193" y="655" width="21" height="24"/>
<text class="s"><tspan x="1128 1139 1172 1194" y="645">ñ.A2</tspan><tspan x="1128 1150 1172" y="679">oFF</tspan></text>
<text class="t"><tspan x="1255" y="635">A2 output</tspan><tspan x="1255" y="656">ON/OFF</tspan></text></g>
<g id="maint-a3"><rect class="bx" x="1111" y="722" width="264" height="72"/><line class="dv" x1="1240" y1="722" x2="1240" y2="794"/>
<rect class="db" x="1149" y="730" width="21" height="23"/><rect class="db" x="1193" y="762" width="21" height="24"/>
<text class="s"><tspan x="1128 1139 1172 1194" y="752">ñ.A3</tspan><tspan x="1128 1150 1172" y="786">oFF</tspan></text>
<text class="t"><tspan x="1255" y="742">A3 output</tspan><tspan x="1255" y="763">ON/OFF</tspan></text></g>
<g id="maint-tr1"><rect class="bx" x="1111" y="829" width="264" height="91"/><line class="dv" x1="1242" y1="829" x2="1242" y2="920"/>
<rect class="db" x="1149" y="837" width="21" height="23"/><rect class="db" x="1127" y="869" width="21" height="24"/><rect class="db" x="1149" y="869" width="21" height="24"/>
<text class="s"><tspan x="1128 1139 1172 1194" y="859">ñ.T1</tspan><tspan x="1172 1181 1194" y="893">0.0</tspan></text>
<text class="t"><tspan x="1257" y="848">Trans.</tspan><tspan x="1257" y="870">output 1</tspan><tspan x="1257" y="892">manual</tspan><tspan x="1257" y="913">output</tspan></text></g>
</svg>
